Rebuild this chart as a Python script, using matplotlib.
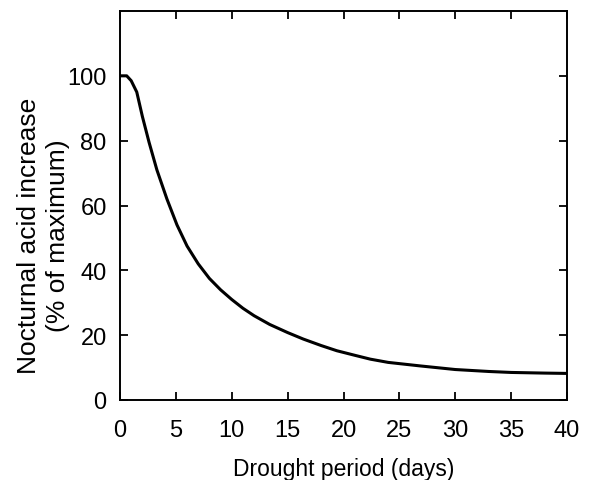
import matplotlib
matplotlib.use('Agg')
import matplotlib.pyplot as plt

# Drought period (days) vs nocturnal acid increase (% of maximum)
days = [0, 0.6, 1.0, 1.5, 2.0, 2.6, 3.3, 4.2, 5.1, 6.0, 7.0, 8.0, 9.0,
        10.0, 11.0, 12.0, 13.4, 15.0, 16.4, 18.0, 19.4, 21.0, 22.4, 24.0,
        26.9, 30.0, 33.0, 35.0, 38.0, 40.0]
acid = [100, 100, 98.5, 95, 87.5, 79.5, 71, 62, 54, 47.5, 42, 37.5, 34,
        31, 28.3, 26, 23.3, 20.8, 18.8, 16.8, 15.2, 13.8, 12.6, 11.6,
        10.5, 9.4, 8.8, 8.5, 8.3, 8.2]

x_ticks = [0, 5, 10, 15, 20, 25, 30, 35, 40]
y_ticks = [0, 20, 40, 60, 80, 100]

plt.rcParams['font.family'] = ['Liberation Sans', 'DejaVu Sans']

W, H = 590, 481
fig = plt.figure(figsize=(W / 100, H / 100), dpi=100)
ax = fig.add_axes([120 / W, 1 - 401 / H, 447 / W, 389 / H])

ax.plot(days, acid, color='black', linewidth=2.2, solid_joinstyle='round')

ax.set_xlim(0, 40)
ax.set_ylim(0, 120)
ax.set_xticks(x_ticks)
ax.set_yticks(y_ticks)
ax.tick_params(direction='in', length=6, width=1.3, labelsize=17,
               top=True, right=True)
ax.tick_params(axis='x', pad=13.5)
ax.tick_params(axis='y', pad=9.6)
for s in ax.spines.values():
    s.set_linewidth(1.4)

# axis titles placed in figure pixels
fig.text(343.5 / W, 1 - 476.5 / H, 'Drought period (days)', fontsize=16.5,
         ha='center', va='baseline')
fig.text(43.5 / W, 1 - 236 / H, 'Nocturnal acid increase\n(% of maximum)',
         fontsize=19, rotation=90, ha='center', va='center',
         multialignment='center', linespacing=1.25)

fig.savefig('out.png', dpi=100)
